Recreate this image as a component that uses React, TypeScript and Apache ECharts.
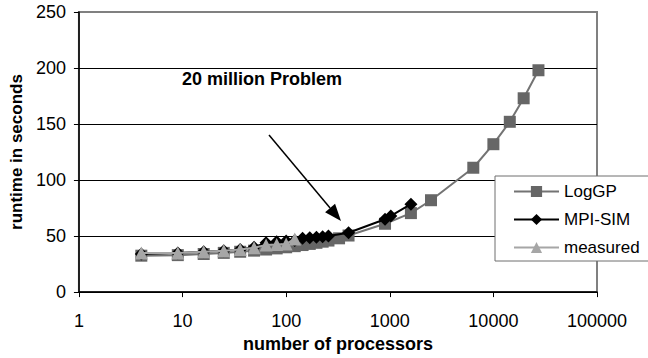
import React, { useEffect, useRef } from "react";
import * as echarts from "echarts";

// Runtime of the 20 million problem vs. processor count
const loggpProcs = [4, 9, 16, 25, 36, 49, 64, 81, 100, 121, 144, 169, 196, 225, 256, 324, 400, 900, 1600, 2500, 6400, 10000, 14400, 19600, 27225];
const loggpTimes = [32.5, 33, 34, 35, 36, 37, 38, 39, 40, 41, 42, 43, 44, 45, 46, 48, 50.5, 61, 70.5, 82, 111, 132, 152, 173, 198];

const mpisimProcs = [4, 9, 16, 25, 36, 49, 64, 81, 100, 121, 144, 169, 196, 225, 256, 400, 900, 1024, 1600];
const mpisimTimes = [34, 35, 36, 37, 38, 40, 44, 45, 45.5, 46, 48, 48.5, 49, 49.5, 50, 53, 65, 68, 78.5];

const measuredProcs = [4, 9, 16, 25, 36, 49, 64, 81, 100, 121];
const measuredTimes = [35, 35, 36, 37, 38, 39.5, 42, 42.5, 43, 47.5];

const yTicks = { min: 0, max: 250, interval: 50 };
const xRange = { min: 1, max: 100000 };

const pairs = (xs: number[], ys: number[]) => xs.map((x, i) => [x, ys[i]]);

const FONT = "Liberation Sans, Arial, sans-serif";

export default function App() {
  const ref = useRef<HTMLDivElement>(null);

  useEffect(() => {
    if (!ref.current) return;
    document.body.style.margin = "0";
    const chart = echarts.init(ref.current, undefined, { renderer: "svg" });

    // arrow pointing at the 400-processor point
    const tail = [269, 135];
    const tip = [341, 221];
    const dx = tip[0] - tail[0];
    const dy = tip[1] - tail[1];
    const len = Math.hypot(dx, dy);
    const ux = dx / len;
    const uy = dy / len;
    const headLen = 17;
    const headHalf = 6.5;
    const bx = tip[0] - ux * headLen;
    const by = tip[1] - uy * headLen;

    chart.setOption({
      animation: false,
      backgroundColor: "#fff",
      textStyle: { fontFamily: FONT },
      grid: {
        left: 72,
        right: 51,
        top: 12,
        bottom: 64,
        show: true,
        borderColor: "#808080",
        borderWidth: 2,
        backgroundColor: "transparent",
      },
      xAxis: {
        type: "log",
        logBase: 10,
        min: xRange.min,
        max: xRange.max,
        name: "number of processors",
        nameLocation: "middle",
        nameGap: 39,
        nameTextStyle: { fontFamily: FONT, fontSize: 18, fontWeight: "bold", color: "#000" },
        axisLine: { show: true, onZero: false, lineStyle: { color: "#000", width: 1.5 } },
        axisTick: { show: true, inside: false, length: 5, lineStyle: { color: "#000", width: 1 } },
        splitLine: { show: false },
        minorTick: { show: false },
        axisLabel: {
          margin: 20,
          fontFamily: FONT,
          fontSize: 18,
          color: "#000",
          formatter: (v: number) => String(Math.round(v)),
        },
      },
      yAxis: {
        type: "value",
        min: yTicks.min,
        max: yTicks.max,
        interval: yTicks.interval,
        name: "runtime in seconds",
        nameLocation: "middle",
        nameGap: 50,
        nameTextStyle: { fontFamily: FONT, fontSize: 17, fontWeight: "bold", color: "#000" },
        axisLine: { show: true, lineStyle: { color: "#000", width: 1.5 } },
        axisTick: { show: true, inside: false, length: 5, lineStyle: { color: "#000", width: 1 } },
        splitLine: {
          show: true,
          lineStyle: { color: ["#000", "#000", "#000", "#000", "#000", "#808080"], width: 1 },
        },
        axisLabel: { margin: 13, fontFamily: FONT, fontSize: 18, color: "#000" },
      },
      legend: {
        orient: "vertical",
        left: 495,
        top: 176,
        data: ["LogGP", "MPI-SIM", "measured"],
        itemWidth: 45,
        itemHeight: 14,
        itemGap: 11,
        padding: [7, 9, 5, 18],
        backgroundColor: "#fff",
        borderColor: "#6e6e6e",
        borderWidth: 1,
        borderRadius: 0,
        textStyle: { fontFamily: FONT, fontSize: 17, color: "#000", lineHeight: 17 },
      },
      series: [
        {
          name: "LogGP",
          type: "line",
          data: pairs(loggpProcs, loggpTimes),
          symbol: "rect",
          symbolSize: 12,
          lineStyle: { color: "#737373", width: 2 },
          itemStyle: { color: "#666666" },
          z: 2,
        },
        {
          name: "MPI-SIM",
          type: "line",
          data: pairs(mpisimProcs, mpisimTimes),
          symbol: "diamond",
          symbolSize: 13,
          lineStyle: { color: "#000", width: 2 },
          itemStyle: { color: "#000" },
          z: 3,
        },
        {
          name: "measured",
          type: "line",
          data: pairs(measuredProcs, measuredTimes),
          symbol: "triangle",
          symbolSize: 13,
          lineStyle: { color: "#a6a6a6", width: 2 },
          itemStyle: { color: "#a6a6a6" },
          z: 4,
        },
      ],
      graphic: [
        {
          type: "text",
          left: 182,
          top: 70,
          style: {
            text: "20 million Problem",
            font: `bold 18px ${FONT}`,
            fill: "#000",
          },
          z: 10,
        },
        {
          type: "line",
          shape: { x1: tail[0], y1: tail[1], x2: bx, y2: by },
          style: { stroke: "#000", lineWidth: 1.5 },
          z: 10,
        },
        {
          type: "polygon",
          shape: {
            points: [
              [tip[0], tip[1]],
              [bx - uy * headHalf, by + ux * headHalf],
              [bx + uy * headHalf, by - ux * headHalf],
            ],
          },
          style: { fill: "#000" },
          z: 10,
        },
      ],
    });

    return () => chart.dispose();
  }, []);

  return <div ref={ref} style={{ width: 648, height: 358 }} />;
}
